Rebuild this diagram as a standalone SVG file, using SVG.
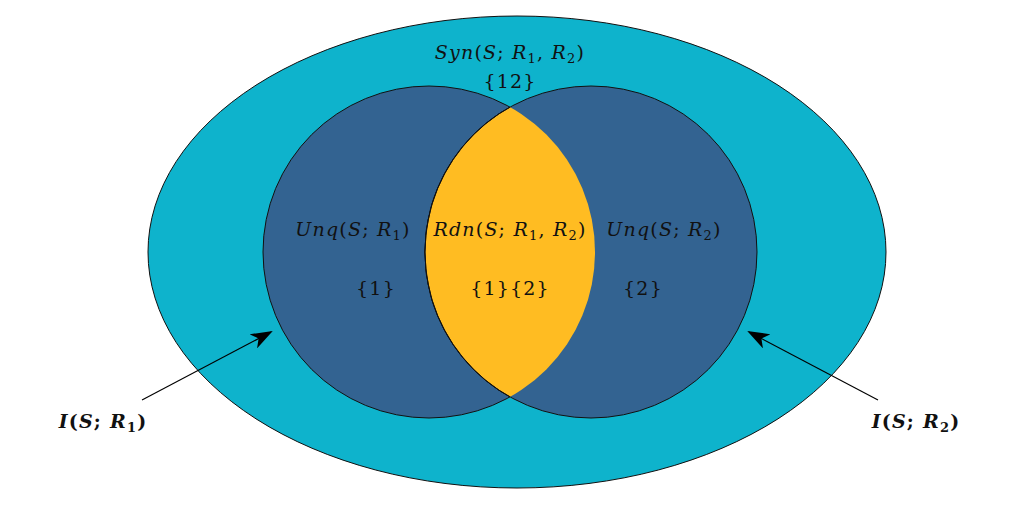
<svg xmlns="http://www.w3.org/2000/svg" width="1027" height="516" viewBox="0 0 1027 516">
<style>
text{font-family:"DejaVu Serif","Liberation Serif",serif;font-size:19px;fill:#111;text-anchor:middle;letter-spacing:1.2px}
.i{font-style:italic}
.s{font-size:13px}
.b{font-weight:bold}
.shape{stroke:#111;stroke-width:1}
</style>
<defs>
<marker id="ah" viewBox="0 0 22 16" refX="20" refY="8" markerWidth="22" markerHeight="16" markerUnits="userSpaceOnUse" orient="auto">
<path d="M0,0 L22,8 L0,16 L6,8 Z" fill="#000"/>
</marker>
<clipPath id="cl"><circle cx="429" cy="252" r="166"/></clipPath>
</defs>
<g id="syn">
<ellipse class="shape" cx="517" cy="252" rx="369" ry="236" fill="#0EB3CC"/>
<text x="510" y="59"><tspan class="i">Syn</tspan>(<tspan class="i">S</tspan>; <tspan class="i">R</tspan><tspan class="s" dy="4">1</tspan><tspan dy="-4">, </tspan><tspan class="i">R</tspan><tspan class="s" dy="4">2</tspan><tspan dy="-4">)</tspan></text>
<text x="510" y="88">{12}</text>
</g>
<g id="unq1">
<circle class="shape" cx="429" cy="252" r="166" fill="#336391"/>
</g>
<g id="unq2">
<circle class="shape" cx="591" cy="252" r="166" fill="#336391"/>
</g>
<g id="rdn">
<circle class="shape" cx="591" cy="252" r="166" fill="#FFBC22" clip-path="url(#cl)"/>
<path d="M510,107 A166,166 0 0 0 510,397" fill="none" stroke="#111" stroke-width="1"/>
</g>
<g id="labels">
<text x="353" y="236"><tspan class="i">Unq</tspan>(<tspan class="i">S</tspan>; <tspan class="i">R</tspan><tspan class="s" dy="4">1</tspan><tspan dy="-4">)</tspan></text>
<text x="376" y="295">{1}</text>
<text x="510" y="236"><tspan class="i">Rdn</tspan>(<tspan class="i">S</tspan>; <tspan class="i">R</tspan><tspan class="s" dy="4">1</tspan><tspan dy="-4">, </tspan><tspan class="i">R</tspan><tspan class="s" dy="4">2</tspan><tspan dy="-4">)</tspan></text>
<text x="510" y="295">{1}{2}</text>
<text x="664" y="236"><tspan class="i">Unq</tspan>(<tspan class="i">S</tspan>; <tspan class="i">R</tspan><tspan class="s" dy="4">2</tspan><tspan dy="-4">)</tspan></text>
<text x="643" y="295">{2}</text>
</g>
<g id="connectors">
<line x1="142" y1="400" x2="271" y2="332" stroke="#000" stroke-width="1.2" marker-end="url(#ah)"/>
<line x1="878" y1="400" x2="749" y2="332" stroke="#000" stroke-width="1.2" marker-end="url(#ah)"/>
</g>
<g id="i1">
<text x="103" y="428" class="b"><tspan class="i">I</tspan>(<tspan class="i">S</tspan>; <tspan class="i">R</tspan><tspan class="s" dy="4">1</tspan><tspan dy="-4">)</tspan></text>
</g>
<g id="i2">
<text x="916" y="428" class="b"><tspan class="i">I</tspan>(<tspan class="i">S</tspan>; <tspan class="i">R</tspan><tspan class="s" dy="4">2</tspan><tspan dy="-4">)</tspan></text>
</g>
</svg>
